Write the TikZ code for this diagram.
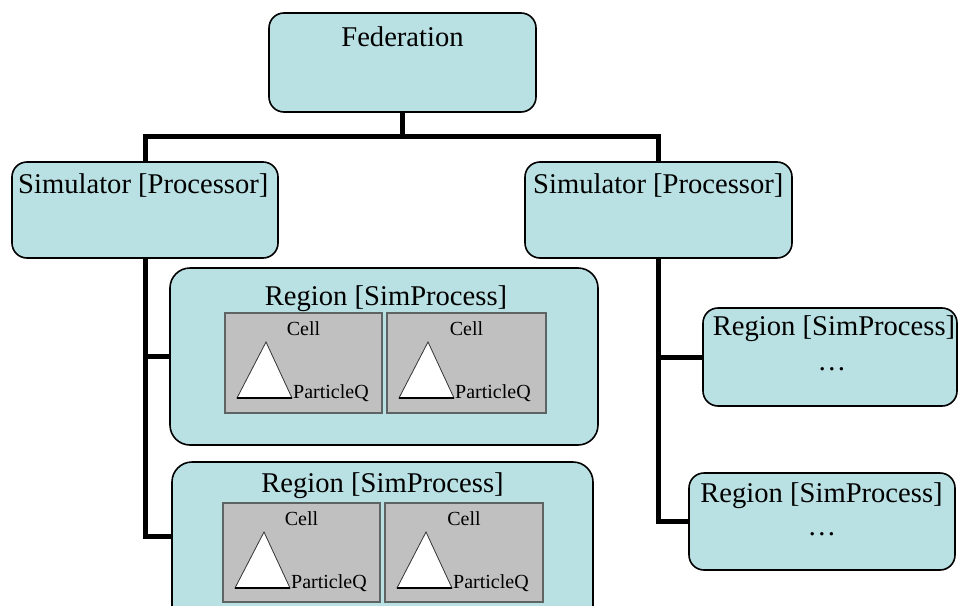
\documentclass[tikz,border=0pt]{standalone}
\usepackage{fontspec}
\setmainfont{Liberation Serif}
\definecolor{boxfill}{HTML}{B9E0E3}
\definecolor{cellfill}{HTML}{C0C0C0}
\definecolor{cellline}{HTML}{5E6464}
\tikzset{
  box/.style={draw=black, line width=1.6pt, fill=boxfill, rounded corners=15pt, inner sep=0pt, outer sep=0pt},
  cellbox/.style={draw=cellline, line width=2.6pt, fill=cellfill, inner sep=0pt, outer sep=0pt},
  conn/.style={draw=black, line width=5pt},
  bigtxt/.style={font=\fontsize{28.6}{32}\selectfont, inner sep=0pt, anchor=base},
  smalltxt/.style={font=\fontsize{20}{24}\selectfont, inner sep=0pt, anchor=base},
  tri/.style={draw=black!80, line width=0.8pt, fill=white}
}
\newcommand{\celltri}[2]{%
  \path[tri] ([shift={(41,29)}]#1.north west) -- ([shift={(67,85)}]#1.north west) -- ([shift={(12,85)}]#1.north west) -- cycle;
  \draw[black, line width=2pt] ([shift={(12,85)}]#1.north west) -- ([shift={(67,85)}]#1.north west);
  \node[smalltxt, anchor=base west] (#2) at ([shift={(68,85)}]#1.north west) {ParticleQ};
}
\begin{document}
\begin{tikzpicture}[x=1pt,y=-1pt]
\useasboundingbox (0,0) rectangle (958,605);
\begin{scope}
\clip (0,0) rectangle (958,605);
% boxes
\node[box, minimum width=267pt, minimum height=99pt] (fed) at (402.5,62.5) {};
\node[box, minimum width=266pt, minimum height=96pt] (simL) at (145,210) {};
\node[box, minimum width=267pt, minimum height=96pt] (simR) at (658.5,210) {};
\node[box, rounded corners=20pt, minimum width=428pt, minimum height=177pt] (reg1) at (384,356.5) {};
\node[box, rounded corners=20pt, minimum width=421pt, minimum height=180pt] (reg2) at (382.5,552) {};
\node[box, minimum width=254pt, minimum height=98pt] (rr1) at (830,357) {};
\node[box, minimum width=266pt, minimum height=97pt] (rr2) at (822,521.5) {};
% connectors
\coordinate (bar) at (402.5,136);
\draw[conn] (fed.south) -- (bar);
\draw[conn] (simL.north) |- (bar) -| (simR.north);
\draw[conn] (simL.south) |- (reg1.west);
\draw[conn] (simL.south) |- ([yshift=-74pt]reg2.north west);
\draw[conn] (simR.south) |- (rr1.west);
\draw[conn] (simR.south) |- (rr2.west);
% texts
\node[bigtxt] (tfed) at (402.5,46) {Federation};
\node[bigtxt, anchor=base west] (tsimL) at (18,193) {Simulator [Processor]};
\node[bigtxt, anchor=base west] (tsimR) at (533,193) {Simulator [Processor]};
\node[bigtxt] (treg1) at (386,305) {Region [SimProcess]};
\node[bigtxt] (treg2) at (382.5,492) {Region [SimProcess]};
\node[bigtxt] (trr1) at (834,335) {Region [SimProcess]};
\node[bigtxt] (trr2) at (821.5,502) {Region [SimProcess]};
\node[bigtxt] (drr1) at (832,370) {\dots};
\node[bigtxt] (drr2) at (822,535) {\dots};
% cells
\node[cellbox, minimum width=157pt, minimum height=100pt] (c11) at (303.5,363) {};
\node[cellbox, minimum width=159pt, minimum height=100pt] (c12) at (466.5,363) {};
\node[cellbox, minimum width=157pt, minimum height=99pt] (c21) at (301.5,552.5) {};
\node[cellbox, minimum width=158pt, minimum height=99pt] (c22) at (464,552.5) {};
\node[smalltxt] (l11) at ([yshift=-22pt]c11.north) {Cell};
\node[smalltxt] (l12) at ([yshift=-22pt]c12.north) {Cell};
\node[smalltxt] (l21) at ([yshift=-22pt]c21.north) {Cell};
\node[smalltxt] (l22) at ([yshift=-22pt]c22.north) {Cell};
\celltri{c11}{p11}
\celltri{c12}{p12}
\celltri{c21}{p21}
\celltri{c22}{p22}
\end{scope}
\end{tikzpicture}
\end{document}
